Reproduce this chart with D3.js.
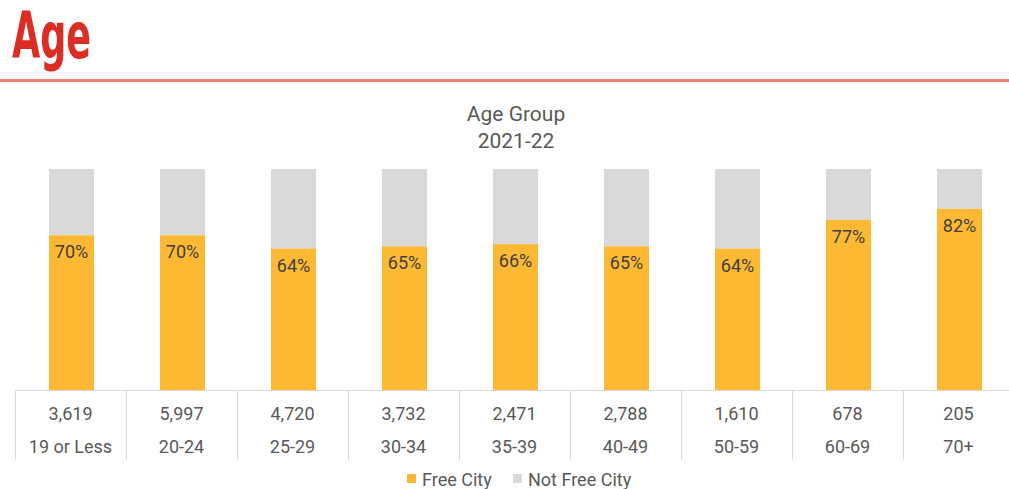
<!DOCTYPE html>
<html>
<head>
<meta charset="utf-8">
<script src="https://cdn.jsdelivr.net/npm/d3@7"></script>
<style>
  body { margin: 0; background: #fff; }
  svg { display: block; font-family: Roboto, "Noto Sans", sans-serif; }
</style>
</head>
<body>
<svg id="chart" width="1009" height="489"></svg>
<script>
// data
var groups = ["19 or Less", "20-24", "25-29", "30-34", "35-39", "40-49", "50-59", "60-69", "70+"];
var counts = [3619, 5997, 4720, 3732, 2471, 2788, 1610, 678, 205];
var freeCity = [0.70, 0.70, 0.64, 0.65, 0.66, 0.65, 0.64, 0.77, 0.82];
var legendNames = ["Free City", "Not Free City"];

var orange = "#fdb933",
    grey = "#d9d9d9",
    textCol = "#595959";

var svg = d3.select("#chart");

// page header
svg.append("text")
    .attr("x", 12)
    .attr("y", 58)
    .attr("fill", "#dc2d24")
    .attr("font-family", "'Liberation Sans Narrow', 'DejaVu Sans Condensed', sans-serif")
    .attr("font-weight", "bold")
    .attr("font-size", 64)
    .attr("textLength", 79)
    .attr("lengthAdjust", "spacingAndGlyphs")
    .text("Age");

svg.append("rect")
    .attr("x", 0).attr("y", 79)
    .attr("width", 1009).attr("height", 3)
    .attr("fill", "#ee7b74");

// chart title
svg.append("text")
    .attr("x", 516).attr("y", 121)
    .attr("text-anchor", "middle")
    .attr("fill", textCol)
    .attr("font-size", 21)
    .text("Age Group");
svg.append("text")
    .attr("x", 516).attr("y", 148)
    .attr("text-anchor", "middle")
    .attr("fill", textCol)
    .attr("font-size", 21)
    .text("2021-22");

// scales
var x = d3.scaleBand().domain(groups).range([15, 1014]);
var y = d3.scaleLinear().domain([0, 1]).range([390, 169]);
var barW = 45;

var data = groups.map(function(g, i) {
  return { group: g, count: counts[i], free: freeCity[i] };
});

var bars = svg.append("g").selectAll("g")
    .data(data)
    .enter().append("g");

// not free city (stacked on top, always to 100%)
bars.append("rect")
    .attr("x", function(d) { return x(d.group) + (x.bandwidth() - barW) / 2 + 1; })
    .attr("y", y(1))
    .attr("width", barW)
    .attr("height", function(d) { return y(d.free) - y(1); })
    .attr("fill", grey);

// free city
bars.append("rect")
    .attr("x", function(d) { return x(d.group) + (x.bandwidth() - barW) / 2 + 1; })
    .attr("y", function(d) { return y(d.free); })
    .attr("width", barW)
    .attr("height", function(d) { return y(0) - y(d.free); })
    .attr("fill", orange);

bars.append("text")
    .attr("x", function(d) { return x(d.group) + x.bandwidth() / 2 + 1; })
    .attr("y", function(d) { return y(d.free) + 23; })
    .attr("text-anchor", "middle")
    .attr("fill", "#404040")
    .attr("font-size", 18)
    .text(function(d) { return d3.format(".0%")(d.free); });

// data table under the bars
var table = svg.append("g");

table.append("line")
    .attr("x1", 15).attr("x2", 1014)
    .attr("y1", 390.5).attr("y2", 390.5)
    .attr("stroke", "#d9d9d9");

table.selectAll(".sep")
    .data(groups.concat(["end"]))
    .enter().append("line")
    .attr("class", "sep")
    .attr("x1", function(d, i) { return 15.5 + i * x.step(); })
    .attr("x2", function(d, i) { return 15.5 + i * x.step(); })
    .attr("y1", 390).attr("y2", 460)
    .attr("stroke", "#d9d9d9");

table.selectAll(".count")
    .data(data)
    .enter().append("text")
    .attr("class", "count")
    .attr("x", function(d) { return x(d.group) + x.bandwidth() / 2; })
    .attr("y", 420)
    .attr("text-anchor", "middle")
    .attr("fill", textCol)
    .attr("font-size", 18)
    .text(function(d) { return d3.format(",")(d.count); });

table.selectAll(".label")
    .data(data)
    .enter().append("text")
    .attr("class", "label")
    .attr("x", function(d) { return x(d.group) + x.bandwidth() / 2; })
    .attr("y", 453)
    .attr("text-anchor", "middle")
    .attr("fill", textCol)
    .attr("font-size", 18)
    .text(function(d) { return d.group; });

// legend
var legend = svg.append("g");
var legX = [407, 513];
legend.selectAll("rect")
    .data(legendNames)
    .enter().append("rect")
    .attr("x", function(d, i) { return legX[i]; })
    .attr("y", 474)
    .attr("width", 9).attr("height", 9)
    .attr("fill", function(d, i) { return i == 0 ? orange : grey; });
legend.selectAll("text")
    .data(legendNames)
    .enter().append("text")
    .attr("x", function(d, i) { return legX[i] + 15; })
    .attr("y", 486)
    .attr("fill", textCol)
    .attr("font-size", 18)
    .text(function(d) { return d; });
</script>
</body>
</html>
